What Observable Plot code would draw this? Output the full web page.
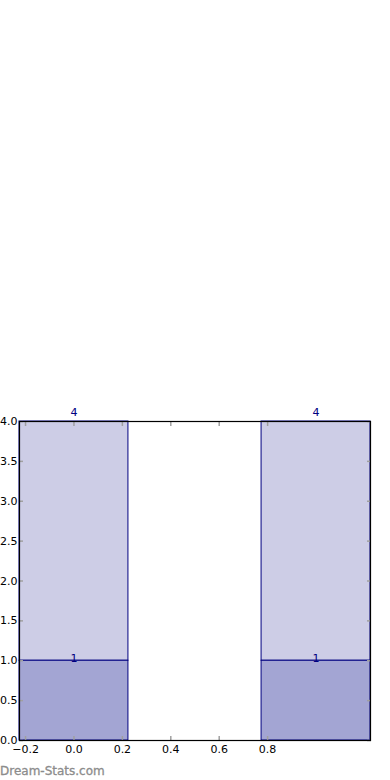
<!DOCTYPE html>
<html>
<head>
<meta charset="utf-8">
<script src="https://cdn.jsdelivr.net/npm/d3@7"></script>
<script src="https://cdn.jsdelivr.net/npm/@observablehq/plot@0.6"></script>
<style>
  body { margin: 0; background: #fff; font-family: "DejaVu Sans", sans-serif; }
  #wrap { position: relative; width: 390px; height: 780px; }
  #footer { position: absolute; left: 0; top: 764px; font: 12px "DejaVu Sans", sans-serif; color: #8c8c8c; -webkit-text-stroke: 0.3px #8c8c8c; }
</style>
</head>
<body>
<div id="wrap"><div id="chart"></div><div id="footer">Dream-Stats.com</div></div>
<script>
const positions = [0, 1];
const bottomValues = [1, 1];
const totalValues = [4, 4];
const barWidth = 0.45;
const xTicks = [-0.2, 0.0, 0.2, 0.4, 0.6, 0.8];
const yTicks = [0, 0.5, 1, 1.5, 2, 2.5, 3, 3.5, 4];

const bottomData = positions.map((p, i) => ({x1: p - barWidth / 2, x2: p + barWidth / 2, y1: 0, y2: bottomValues[i], x: p}));
const topData = positions.map((p, i) => ({x1: p - barWidth / 2, x2: p + barWidth / 2, y1: bottomValues[i], y2: totalValues[i], x: p}));

const fmt = d3.format(".1f");
const navy = "#000080";
const tickGrey = "#a0a0a0";

const plot = Plot.plot({
  width: 390,
  height: 760,
  marginTop: 421,
  marginBottom: 20,
  marginLeft: 19,
  marginRight: 20,
  style: {fontFamily: "DejaVu Sans, sans-serif", fontSize: "11px", color: "#000"},
  x: {domain: [-0.225, 1.225], axis: null},
  y: {domain: [0, 4], axis: null},
  marks: [
    Plot.rect(topData, {x1: "x1", x2: "x2", y1: "y1", y2: "y2", fill: "#cdcde6", stroke: navy, strokeWidth: 1}),
    Plot.rect(bottomData, {x1: "x1", x2: "x2", y1: "y1", y2: "y2", fill: "#a3a5d3", stroke: navy, strokeWidth: 1}),
    Plot.axisX({anchor: "bottom", ticks: xTicks, tickSize: -4, stroke: tickGrey, strokeWidth: 1.5, text: null}),
    Plot.axisX({anchor: "top", ticks: xTicks, tickSize: -4, stroke: tickGrey, strokeWidth: 1.5, text: null}),
    Plot.axisX({anchor: "bottom", ticks: xTicks, tickSize: 0, tickPadding: 5, tickFormat: fmt, fill: "#000", fontSize: 11}),
    Plot.axisY({anchor: "left", ticks: yTicks, tickSize: -4, stroke: tickGrey, strokeWidth: 1.5, text: null}),
    Plot.axisY({anchor: "right", ticks: yTicks, tickSize: -4, stroke: tickGrey, strokeWidth: 1.5, text: null}),
    Plot.axisY({anchor: "left", ticks: yTicks, tickSize: 0, tickPadding: 2, tickFormat: fmt, fill: "#000", fontSize: 11}),
    Plot.frame({stroke: "#000", strokeWidth: 1.2}),
    Plot.text(topData, {x: "x", y: "y2", text: (d, i) => String(totalValues[i]), dy: -9, fill: navy, fontSize: 11}),
    Plot.text(bottomData, {x: "x", y: "y2", text: (d, i) => String(bottomValues[i]), dy: -2, fill: navy, fontSize: 11})
  ]
});
document.getElementById("chart").appendChild(plot);
</script>
</body>
</html>
